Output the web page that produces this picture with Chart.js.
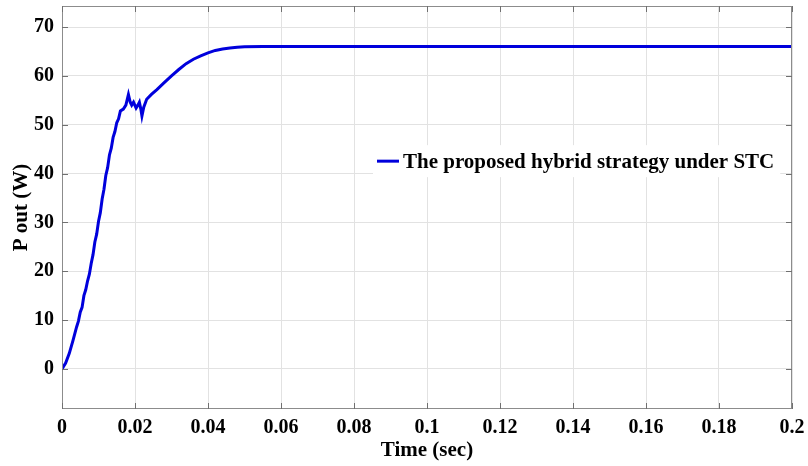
<!DOCTYPE html>
<html>
<head>
<meta charset="utf-8">
<script src="https://cdn.jsdelivr.net/npm/chart.js@4.4.1/dist/chart.umd.min.js"></script>
<style>
  html, body { margin: 0; padding: 0; background: #ffffff; }
  #wrap { width: 808px; height: 466px; }
</style>
</head>
<body>
<div id="wrap"><canvas id="c" width="808" height="466"></canvas></div>
<script>
// Output power of the PV system over time (seconds, watts)
const timeSec = [
  0, 0.001, 0.002, 0.003, 0.004, 0.0045, 0.005, 0.0055, 0.006, 0.0065,
  0.007, 0.0075, 0.008, 0.0085, 0.009, 0.0095, 0.010, 0.0105, 0.011, 0.0115,
  0.012, 0.0125, 0.013, 0.0135, 0.014, 0.0145, 0.015, 0.0155, 0.016, 0.0168,
  0.0175, 0.0182, 0.0187, 0.0191, 0.0196, 0.0203, 0.0208, 0.0212, 0.0216, 0.0219,
  0.0224, 0.0232, 0.0245, 0.026, 0.028, 0.030, 0.032, 0.034, 0.036, 0.038,
  0.040, 0.042, 0.044, 0.046, 0.048, 0.050, 0.055, 0.06, 0.08, 0.1,
  0.12, 0.14, 0.16, 0.18, 0.2
];
const powerW = [
  0, 1.2, 3.2, 5.8, 8.6, 9.8, 11.6, 12.6, 15.0, 16.2,
  18.0, 19.4, 21.6, 23.4, 26.0, 27.6, 30.2, 32.0, 34.8, 36.8,
  39.6, 41.2, 43.8, 45.2, 47.4, 48.6, 50.4, 51.2, 52.8, 53.2,
  54.0, 56.2, 54.6, 54.0, 54.6, 53.4, 54.0, 54.6, 53.2, 51.8,
  53.6, 55.2, 56.2, 57.2, 58.6, 60.0, 61.3, 62.5, 63.4, 64.1,
  64.7, 65.2, 65.5, 65.7, 65.85, 65.95, 66.0, 66.0, 66.0, 66.0,
  66.0, 66.0, 66.0, 66.0, 66.0
];
const seriesLabel = 'The proposed hybrid strategy under STC';
const xTicks = [0, 0.02, 0.04, 0.06, 0.08, 0.1, 0.12, 0.14, 0.16, 0.18, 0.2];
const yTicks = [0, 10, 20, 30, 40, 50, 60, 70];

const serif = "'Liberation Serif', 'Times New Roman', serif";
const frameColor = '#8c8c8c';

// Box frame, inward tick marks and the legend drawn inside the axes
const framePlugin = {
  id: 'frameAndLegend',
  afterDraw(chart) {
    const { ctx, chartArea: a, scales } = chart;
    ctx.save();
    ctx.strokeStyle = frameColor;
    ctx.lineWidth = 1;
    ctx.strokeRect(a.left + 0.5, a.top + 0.5, a.right - a.left - 1, a.bottom - a.top - 1);
    ctx.strokeStyle = '#707070';
    ctx.beginPath();
    xTicks.forEach(v => {
      const px = Math.round(scales.x.getPixelForValue(v)) + 0.5;
      ctx.moveTo(px, a.bottom); ctx.lineTo(px, a.bottom - 6);
      ctx.moveTo(px, a.top); ctx.lineTo(px, a.top + 6);
    });
    yTicks.forEach(v => {
      const py = Math.round(scales.y.getPixelForValue(v)) + 0.5;
      ctx.moveTo(a.left, py); ctx.lineTo(a.left + 6, py);
      ctx.moveTo(a.right, py); ctx.lineTo(a.right - 6, py);
    });
    ctx.stroke();

    // legend box
    const ds = chart.data.datasets[0];
    const lx = a.left + (a.right - a.left) * 0.4315;
    const ly = a.top + (a.bottom - a.top) * 0.385;
    ctx.font = 'bold 21px ' + serif;
    const tw = ctx.measureText(ds.label).width;
    ctx.fillStyle = '#ffffff';
    ctx.fillRect(lx - 4, ly - 16, tw + 36, 32);
    ctx.strokeStyle = ds.borderColor;
    ctx.lineWidth = 3;
    ctx.beginPath();
    ctx.moveTo(lx, ly); ctx.lineTo(lx + 22, ly);
    ctx.stroke();
    ctx.fillStyle = '#000000';
    ctx.textBaseline = 'middle';
    ctx.textAlign = 'left';
    ctx.fillText(ds.label, lx + 26, ly + 1);
    ctx.restore();
  }
};

new Chart(document.getElementById('c'), {
  type: 'line',
  data: {
    datasets: [{
      label: seriesLabel,
      data: timeSec.map((t, i) => ({ x: t, y: powerW[i] })),
      borderColor: '#0000dc',
      borderWidth: 3,
      pointRadius: 0,
      tension: 0,
      fill: false
    }]
  },
  options: {
    responsive: false,
    animation: false,
    devicePixelRatio: 1,
    layout: { padding: { top: 6, right: 16, left: 0, bottom: 0 } },
    plugins: { legend: { display: false }, tooltip: { enabled: false } },
    scales: {
      x: {
        type: 'linear',
        min: 0, max: 0.2,
        afterBuildTicks: s => { s.ticks = xTicks.map(v => ({ value: v })); },
        afterFit: s => { s.height = 57; s.paddingLeft = 0; s.paddingRight = 0; },
        grid: { color: '#e2e2e2', drawTicks: false },
        border: { display: false },
        ticks: {
          padding: 7,
          color: '#000',
          font: { family: serif, size: 20, weight: 'bold' },
          maxRotation: 0,
          callback: v => String(Number(v.toFixed(2)))
        },
        title: {
          display: true, text: 'Time (sec)', color: '#000',
          font: { family: serif, size: 21, weight: 'bold' },
          padding: { top: 0, bottom: 3 }
        }
      },
      y: {
        type: 'linear',
        min: -8.2, max: 74.3,
        afterBuildTicks: s => { s.ticks = yTicks.map(v => ({ value: v })); },
        afterFit: s => { s.width = 62; s.paddingTop = 0; s.paddingBottom = 0; },
        grid: { color: '#e2e2e2', drawTicks: false },
        border: { display: false },
        ticks: {
          padding: 8,
          color: '#000',
          font: { family: serif, size: 20, weight: 'bold' }
        },
        title: {
          display: true, text: 'P out (W)', color: '#000',
          font: { family: serif, size: 21, weight: 'bold' },
          padding: { top: 9, bottom: 0 }
        }
      }
    }
  },
  plugins: [framePlugin]
});
</script>
</body>
</html>
